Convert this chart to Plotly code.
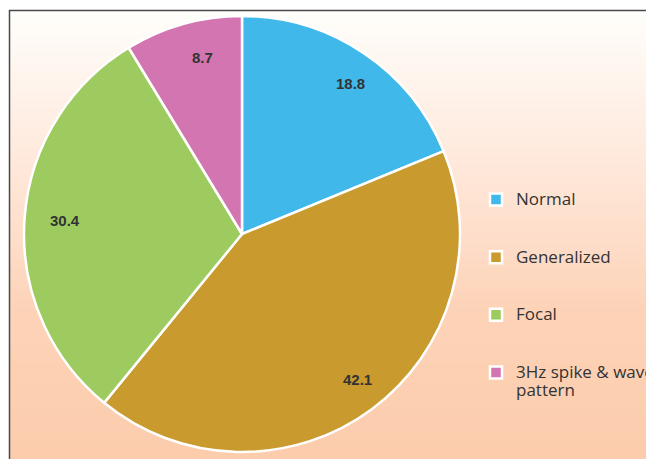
import math
import plotly.graph_objects as go

categories = ["Normal", "Generalized", "Focal", "3Hz spike & wave pattern"]
values = [18.8, 42.1, 30.4, 8.7]
legend_labels = ["Normal", "Generalized", "Focal", "3Hz spike & wave<br>pattern"]
colors = ["#41b8ea", "#c99a2e", "#9dcb5f", "#d275b0"]

W, H = 646, 459

# pie placement (pixels)
cx, cy, R = 242, 234, 218
dom_x = [(cx - R) / W, (cx + R) / W]
dom_y = [(H - cy - R) / H, (H - cy + R) / H]


def legend_text(lbl, last=False):
    span = "<span style='font-size:17px'>%s</span>" % lbl.replace("<br>", "</span><br><span style='font-size:17px'>")
    return span if last else span + "<br> <br> "


names = [legend_text(l, i == len(legend_labels) - 1) for i, l in enumerate(legend_labels)]

fig = go.Figure()
fig.add_trace(go.Pie(
    labels=names,
    values=values,
    sort=False,
    direction="clockwise",
    rotation=0,
    marker=dict(colors=colors, line=dict(color="white", width=2.5)),
    textinfo="none",
    domain=dict(x=dom_x, y=dom_y),
    hovertext=categories,
    hoverinfo="text+value",
))

# data labels near the outer edge of each slice ("inside end")
total = sum(values)
cum = 0.0
annotations = []
for v in values:
    ang = 2 * math.pi * (cum + v / 2) / total
    cum += v
    px = cx + 0.89 * R * math.sin(ang)
    py = cy - 0.89 * R * math.cos(ang)
    annotations.append(dict(x=px / W, y=1 - py / H, xref="paper", yref="paper",
                            text="<b>%.1f</b>" % v, showarrow=False,
                            font=dict(family="Liberation Sans", size=15, color="#333333")))

# gradient background (style only)
stops = [(11, (255, 254, 251)), (160, (255, 233, 220)), (310, (253, 211, 184)), (459, (252, 204, 172))]


def col_at(py):
    for (a, ca), (b, cb) in zip(stops[:-1], stops[1:]):
        if a <= py <= b:
            t = (py - a) / (b - a)
            return "rgb(%d,%d,%d)" % tuple(round(ca[i] + (cb[i] - ca[i]) * t) for i in range(3))
    return "rgb(%d,%d,%d)" % stops[-1][1]


shapes = []
step = 4
for py in range(11, H + step, step):
    shapes.append(dict(type="rect", xref="paper", yref="paper", layer="below",
                       x0=9.5 / W, x1=1.02, y0=1 - (py + step) / H, y1=1 - py / H,
                       line=dict(width=0), fillcolor=col_at(py + step / 2)))
shapes.append(dict(type="rect", xref="paper", yref="paper", layer="above",
                   x0=9.5 / W, x1=1.02, y0=-0.02, y1=1 - 10.5 / H,
                   line=dict(color="#4a4a4a", width=1.5), fillcolor="rgba(0,0,0,0)"))

fig.update_layout(
    width=W, height=H,
    margin=dict(l=0, r=0, t=0, b=0, autoexpand=False),
    paper_bgcolor="white",
    shapes=shapes,
    annotations=annotations,
    showlegend=True,
    legend=dict(x=476 / W, y=1 - 184 / H, xanchor="left", yanchor="top", valign="top",
                bgcolor="rgba(0,0,0,0)", font=dict(family="Open Sans", size=14, color="#333333"),
                tracegroupgap=0),
)

fig.write_html("out.html", config={"displayModeBar": False},
               post_script="document.body.style.margin='0';document.body.style.overflow='hidden';")
